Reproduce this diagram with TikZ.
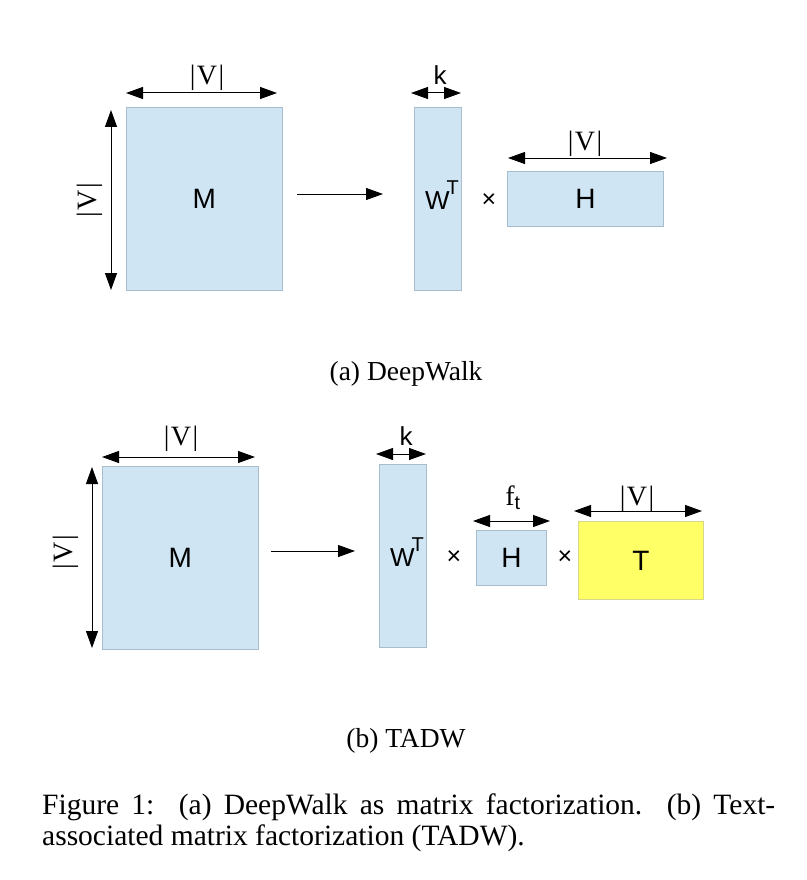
\documentclass[tikz,border=0pt]{standalone}
\usepackage{fontspec}
\setmainfont{Liberation Serif}
\newfontfamily\sansf{Liberation Sans}
\usetikzlibrary{arrows.meta}
\definecolor{matblue}{RGB}{207,229,243}
\definecolor{matedge}{RGB}{168,190,206}
\definecolor{matyellow}{RGB}{255,255,102}
\definecolor{yedge}{RGB}{214,214,140}
\newcommand\vcard{|\kern1.5pt V\kern1.5pt|}
\newcommand\wlabel{W\kern-3pt\raisebox{15pt}{\fontsize{20}{20}\selectfont T}}
\begin{document}
\begin{tikzpicture}[x=1pt,y=-1pt,
 mat/.style={draw=matedge, fill=matblue, line width=0.8pt, inner sep=0pt, anchor=north west, font=\sansf\fontsize{28}{28}\selectfont},
 ymat/.style={mat, draw=yedge, fill=matyellow},
 dim/.style={{Triangle[length=17pt,width=12pt]}-{Triangle[length=17pt,width=12pt]}, line width=1pt},
 flow/.style={-{Triangle[length=17pt,width=12pt]}, line width=1pt},
 dimlab/.style={font=\fontsize{28}{28}\selectfont, anchor=base, inner sep=0pt},
 sanslab/.style={font=\sansf\fontsize{26}{26}\selectfont, anchor=base, inner sep=0pt},
 wlab/.style={font=\sansf\fontsize{26}{26}\selectfont, inner sep=0pt, anchor=base west},
 timesx/.style={font=\sansf\fontsize{25}{25}\selectfont, inner sep=0pt},
 subcap/.style={font=\fontsize{27.5}{27.5}\selectfont, inner sep=0pt, anchor=base},
 captxt/.style={font=\fontsize{29.5}{31}\selectfont, inner sep=0pt, anchor=base west}
]
\useasboundingbox (0,0) rectangle (806,880);

% ---------- (a) DeepWalk ----------
\node[mat, minimum width=156pt, minimum height=183pt] (M1) at (126,107) {M};
\node[mat, minimum width=47pt, minimum height=183pt] (W1) at (414,107) {};
\node[mat, minimum width=156pt, minimum height=55pt] (H1) at (507,171) {H};
\node[wlab] (W1l) at (425,209) {\wlabel};
\node[timesx] (x1) at (489,201) {×};

\coordinate (M1ta) at (126,93); \coordinate (M1tb) at (277,93);
\draw[dim] (M1ta) -- (M1tb);
\node[dimlab] (M1tl) at (207,85) {\vcard};
\coordinate (M1la) at (111,110); \coordinate (M1lb) at (111,290);
\draw[dim] (M1la) -- (M1lb);
\node[dimlab, anchor=center, rotate=90] (M1ll) at (90,200) {\vcard};
\coordinate (W1ta) at (411,93); \coordinate (W1tb) at (461,93);
\draw[dim] (W1ta) -- (W1tb);
\node[sanslab] (W1k) at (440,85) {k};
\coordinate (H1ta) at (508,158); \coordinate (H1tb) at (667,158);
\draw[dim] (H1ta) -- (H1tb);
\node[dimlab] (H1tl) at (585,150) {\vcard};
\coordinate (A1s) at (297,194); \coordinate (A1e) at (383,194);
\draw[flow] (A1s) -- (A1e);

\node[subcap] (capa) at (406,380) {(a) DeepWalk};

% ---------- (b) TADW ----------
\node[mat, minimum width=156pt, minimum height=183pt] (M2) at (102,466) {M};
\node[mat, minimum width=47pt, minimum height=183pt] (W2) at (379,464) {};
\node[mat, minimum width=70pt, minimum height=55pt] (H2) at (476,530) {H};
\node[ymat, minimum width=125pt, minimum height=78pt] (T2) at (578,521) {T};
\node[wlab] (W2l) at (390,566) {\wlabel};
\node[timesx] (x2) at (454,558) {×};
\node[timesx] (x3) at (565,558) {×};

\coordinate (M2ta) at (102,457); \coordinate (M2tb) at (255,457);
\draw[dim] (M2ta) -- (M2tb);
\node[dimlab] (M2tl) at (181,445) {\vcard};
\coordinate (M2la) at (92,467); \coordinate (M2lb) at (92,648);
\draw[dim] (M2la) -- (M2lb);
\node[dimlab, anchor=center, rotate=90] (M2ll) at (66,552) {\vcard};
\coordinate (W2ta) at (376,454); \coordinate (W2tb) at (426,454);
\draw[dim] (W2ta) -- (W2tb);
\node[sanslab] (W2k) at (406,445) {k};
\coordinate (H2ta) at (473,521); \coordinate (H2tb) at (550,521);
\draw[dim] (H2ta) -- (H2tb);
\node[dimlab] (H2tl) at (513,505) {f\textsubscript{\sansf t}};
\coordinate (T2ta) at (574,511); \coordinate (T2tb) at (702,511);
\draw[dim] (T2ta) -- (T2tb);
\node[dimlab] (T2tl) at (637,505) {\vcard};
\coordinate (A2s) at (271,551); \coordinate (A2e) at (355,551);
\draw[flow] (A2s) -- (A2e);

\node[subcap] (capb) at (406,747) {(b) TADW};

% ---------- caption ----------
\node[captxt] (fig1) at (42,814) {\makebox[733pt][s]{Figure 1:\ \ (a) DeepWalk as matrix factorization.\ \ (b) Text-}};
\node[captxt] (fig2) at (42,845) {associated matrix factorization (TADW).};
\end{tikzpicture}
\end{document}
